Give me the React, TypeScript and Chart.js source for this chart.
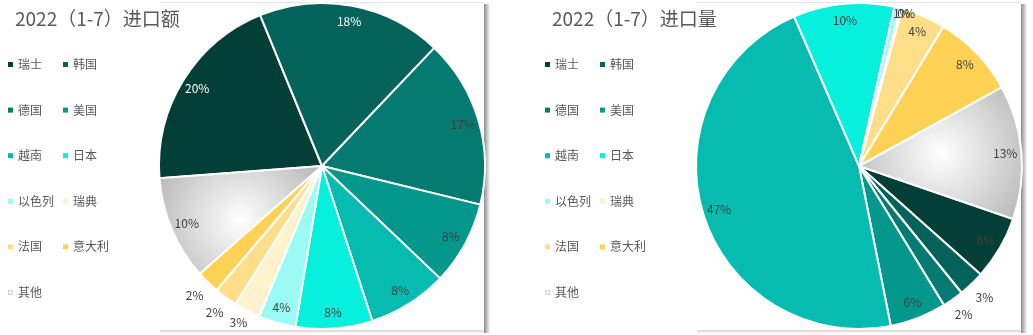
import React, { useEffect, useRef } from 'react';
import { Chart, registerables } from 'chart.js';

Chart.register(...registerables);

// ---- data ----
const categories = ['瑞士', '韩国', '德国', '美国', '越南', '日本', '以色列', '瑞典', '法国', '意大利', '其他'];
const amountShares = [20.0, 18.3, 16.7, 8.3, 7.9, 7.6, 3.7, 2.6, 2.3, 2.3, 10.3];
const volumeShares = [6.3, 2.6, 2.1, 5.6, 46.6, 10.0, 0.6, 0.2, 4.4, 8.3, 13.3];
const amountTitle = '2022（1-7）进口额';
const volumeTitle = '2022（1-7）进口量';

// ---- styles ----
const sliceColors = ['#033f37', '#03625a', '#047a71', '#04978b', '#06bcb1', '#07f0dd', '#9bfaf3', '#fff2cc', '#ffde89', '#ffd155', '#d9d9d9'];
const FONT = '"Noto Sans CJK SC", "Microsoft YaHei", sans-serif';
const W = 496;
const H = 335;
const PANEL = { left: 160, right: 484, top: 2, bottom: 330 };

function sliceFill(c: any) {
  const i = c.dataIndex;
  if (i !== 10) return sliceColors[i];
  const chart = c.chart;
  const area = chart.chartArea;
  if (!area) return sliceColors[i];
  const vals = c.dataset.data as number[];
  const total = vals.reduce((a, b) => a + b, 0);
  const rot = chart.options.rotation as number;
  let before = 0;
  for (let k = 0; k < i; k++) before += vals[k];
  const a0 = ((rot - 90) * Math.PI) / 180 + (before / total) * 2 * Math.PI;
  const a1 = a0 + (vals[i] / total) * 2 * Math.PI;
  const cx = (area.left + area.right) / 2;
  const cy = (area.top + area.bottom) / 2;
  const r = Math.min(area.width, area.height) / 2;
  const xs = [cx];
  const ys = [cy];
  const add = (a: number) => {
    xs.push(cx + r * Math.cos(a));
    ys.push(cy + r * Math.sin(a));
  };
  add(a0);
  add(a1);
  for (let k = Math.ceil(a0 / (Math.PI / 2)); (k * Math.PI) / 2 < a1; k++) add((k * Math.PI) / 2);
  const minX = Math.min(...xs), maxX = Math.max(...xs);
  const minY = Math.min(...ys), maxY = Math.max(...ys);
  const gx = (minX + maxX) / 2;
  const gy = (minY + maxY) / 2;
  const gr = Math.hypot(maxX - minX, maxY - minY) / 2;
  const g = chart.ctx.createRadialGradient(gx, gy, 0, gx, gy, gr);
  g.addColorStop(0, '#ffffff');
  g.addColorStop(1, '#b4b4b4');
  return g;
}

function PieChart({ title, values, rotation, whiteLabels }: { title: string; values: number[]; rotation: number; whiteLabels: number[] }) {
  const ref = useRef<HTMLCanvasElement>(null);

  useEffect(() => {
    const canvas = ref.current!;

    const panelPlugin = {
      id: 'panel',
      beforeDatasetsDraw(chart: any) {
        const ctx = chart.ctx;
        const a = { ...PANEL, width: PANEL.right - PANEL.left, height: PANEL.bottom - PANEL.top };
        ctx.save();
        ctx.fillStyle = '#ffffff';
        ctx.fillRect(a.left, a.top, a.width, a.height);
        ctx.fillStyle = '#e3e3e3';
        ctx.fillRect(a.left, a.top, a.width, 1);
        const gr = ctx.createLinearGradient(a.right, 0, a.right + 6, 0);
        gr.addColorStop(0, 'rgba(0,0,0,0.45)');
        gr.addColorStop(1, 'rgba(0,0,0,0.02)');
        ctx.fillStyle = gr;
        ctx.fillRect(a.right, a.top + 2, 6, a.height + 1);
        const gb = ctx.createLinearGradient(0, a.bottom, 0, a.bottom + 3);
        gb.addColorStop(0, 'rgba(0,0,0,0.18)');
        gb.addColorStop(1, 'rgba(0,0,0,0.02)');
        ctx.fillStyle = gb;
        ctx.fillRect(a.left, a.bottom, a.width, 3);
        ctx.restore();
      },
    };

    const labelPlugin = {
      id: 'sliceLabels',
      afterDatasetsDraw(chart: any) {
        const ctx = chart.ctx;
        const meta = chart.getDatasetMeta(0);
        const vals = chart.data.datasets[0].data as number[];
        const total = vals.reduce((a, b) => a + b, 0);
        ctx.save();
        ctx.font = `12px ${FONT}`;
        ctx.textAlign = 'center';
        ctx.textBaseline = 'middle';
        meta.data.forEach((arc: any, i: number) => {
          const p = arc.getProps(['x', 'y', 'startAngle', 'endAngle', 'outerRadius'], true);
          const pct = (vals[i] / total) * 100;
          const mid = (p.startAngle + p.endAngle) / 2;
          const rr = pct >= 3.5 ? p.outerRadius * 0.9 : p.outerRadius * 1.115;
          const lx = p.x + rr * Math.cos(mid);
          let ly = p.y + rr * Math.sin(mid);
          ly = Math.max(PANEL.top + 11, Math.min(PANEL.bottom - 8, ly));
          ctx.fillStyle = whiteLabels.includes(i) ? '#ffffff' : '#404040';
          ctx.fillText(`${Math.round(pct)}%`, lx, ly);
        });
        ctx.restore();
      },
    };

    const legendPlugin = {
      id: 'sideLegend',
      afterDraw(chart: any) {
        const ctx = chart.ctx;
        ctx.save();
        ctx.fillStyle = '#595959';
        ctx.font = `19px ${FONT}`;
        ctx.textAlign = 'left';
        ctx.textBaseline = 'middle';
        ctx.fillText(title, 15, 19);
        ctx.font = `12px ${FONT}`;
        const labels = chart.data.labels as string[];
        labels.forEach((lab, i) => {
          const col = i % 2;
          const row = Math.floor(i / 2);
          const y = 64.5 + row * 45.6;
          const mx = col === 0 ? 8 : 63;
          if (i === 10) {
            ctx.fillStyle = '#d4d4d4';
            ctx.fillRect(mx, y - 2.5, 5, 5);
            ctx.fillStyle = '#f4f4f4';
            ctx.fillRect(mx + 1, y - 1.5, 3, 3);
          } else {
            ctx.fillStyle = sliceColors[i];
            ctx.fillRect(mx, y - 2.5, 5, 5);
          }
          ctx.fillStyle = '#595959';
          ctx.fillText(lab, mx + 10, y);
        });
        ctx.restore();
      },
    };

    const chart = new Chart(canvas, {
      type: 'pie',
      data: {
        labels: categories,
        datasets: [
          {
            data: values,
            backgroundColor: sliceFill as any,
            borderColor: '#ffffff',
            borderWidth: 2,
          },
        ],
      },
      options: {
        responsive: false,
        animation: false,
        rotation,
        events: [],
        layout: { padding: { left: 158, right: 10, top: 1, bottom: 4 } },
        plugins: {
          legend: { display: false },
          title: { display: false },
          tooltip: { enabled: false },
        },
      },
      plugins: [panelPlugin, labelPlugin, legendPlugin],
    });
    return () => chart.destroy();
  }, [title, values, rotation, whiteLabels]);

  return <canvas ref={ref} width={W} height={H} style={{ width: W, height: H, display: 'block' }} />;
}

const leftWhite = [0, 1];
const rightWhite: number[] = [];

export default function App() {
  return (
    <div style={{ position: 'absolute', left: 0, top: 0, width: 1033, height: 335, background: '#ffffff' }}>
      <div style={{ position: 'absolute', left: 0, top: 0 }}>
        <PieChart title={amountTitle} values={amountShares} rotation={265.7} whiteLabels={leftWhite} />
      </div>
      <div style={{ position: 'absolute', left: 537, top: 0 }}>
        <PieChart title={volumeTitle} values={volumeShares} rotation={109} whiteLabels={rightWhite} />
      </div>
    </div>
  );
}
